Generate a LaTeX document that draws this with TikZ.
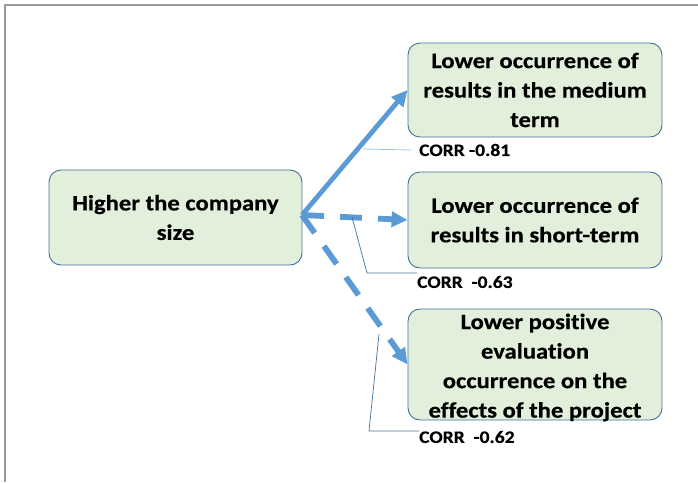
\documentclass[tikz,border=0pt]{standalone}
\usepackage{fontspec}
\setmainfont{Carlito}[FakeStretch=1.12, Ligatures=NoCommon, BoldFeatures={FakeBold=0.5}]
\usetikzlibrary{arrows.meta}
\definecolor{boxfill}{RGB}{226,239,218}
\definecolor{boxline}{RGB}{65,113,156}
\definecolor{arrowblue}{RGB}{91,155,213}
\definecolor{leaderlight}{RGB}{157,195,230}
\begin{document}
\begin{tikzpicture}[x=1pt,y=-1pt,
  box/.style={draw=boxline, line width=0.9pt, fill=boxfill, rounded corners=12pt,
    minimum width=254pt, inner sep=0pt},
  boxtext/.style={align=center, font=\bfseries\fontsize{22}{29.5}\selectfont, inner sep=0pt},
  corr/.style={anchor=west, font=\bfseries\fontsize{17.5}{19}\selectfont, inner sep=0pt},
  link/.style={draw=arrowblue, line width=4.8pt, -{Triangle[length=16pt,width=15pt]}},
  dashlink/.style={link, line width=5.8pt, dash pattern=on 22pt off 16pt},
  leader/.style={draw=boxline, line width=0.7pt}]
  \useasboundingbox (0,0) rectangle (698,482);
  % page frame
  \draw[gray!80, line width=1.7pt] (698,5) -- (5,5) -- (5,482);

  % boxes
  \node[box, minimum width=253pt, minimum height=95pt] (src) at (175.5,217.5) {};
  \node[boxtext] (srct) at (src.center) {Higher the company\\size};
  \node[box, minimum height=94pt] (b1) at (535,90) {};
  \node[boxtext] (b1t) at (b1.center) {Lower occurrence of\\results in the medium\\term};
  \node[box, minimum height=96pt] (b2) at (535,220) {};
  \node[boxtext] (b2t) at (b2.center) {Lower occurrence of\\results in short-term};
  \node[box, minimum height=111pt] (b3) at (535,364.5) {};
  \node[boxtext] (b3t) at ([yshift=-3pt]b3.center) {Lower positive\\evaluation\\occurrence on the\\effects of the project};

  % correlation labels
  \node[corr] (c1) at (419,150) {CORR -0.81};
  \node[corr] (c2) at (417,282) {CORR\ \ -0.63};
  \node[corr] (c3) at (419,437) {CORR\ \ -0.62};

  % links
  \coordinate (o) at (302,215);
  \draw[link] (o) -- (b1.west);
  \draw[dashlink] (o) -- (b2.west);
  \draw[dashlink] (o) -- (b3.west);

  % leader lines from the links to their labels
  \coordinate (p1) at (363,149);
  \coordinate (p2) at (352,217);
  \coordinate (p3) at (379,334);
  \draw[draw=leaderlight, line width=0.8pt] (p1) -- (c1.west -| 411,0);
  \draw[leader] (p2) -- (367,273) -- (c2.west |- 0,273);
  \draw[leader] (p3) -- (369,431) -- (c3.west |- 0,431);
\end{tikzpicture}
\end{document}
